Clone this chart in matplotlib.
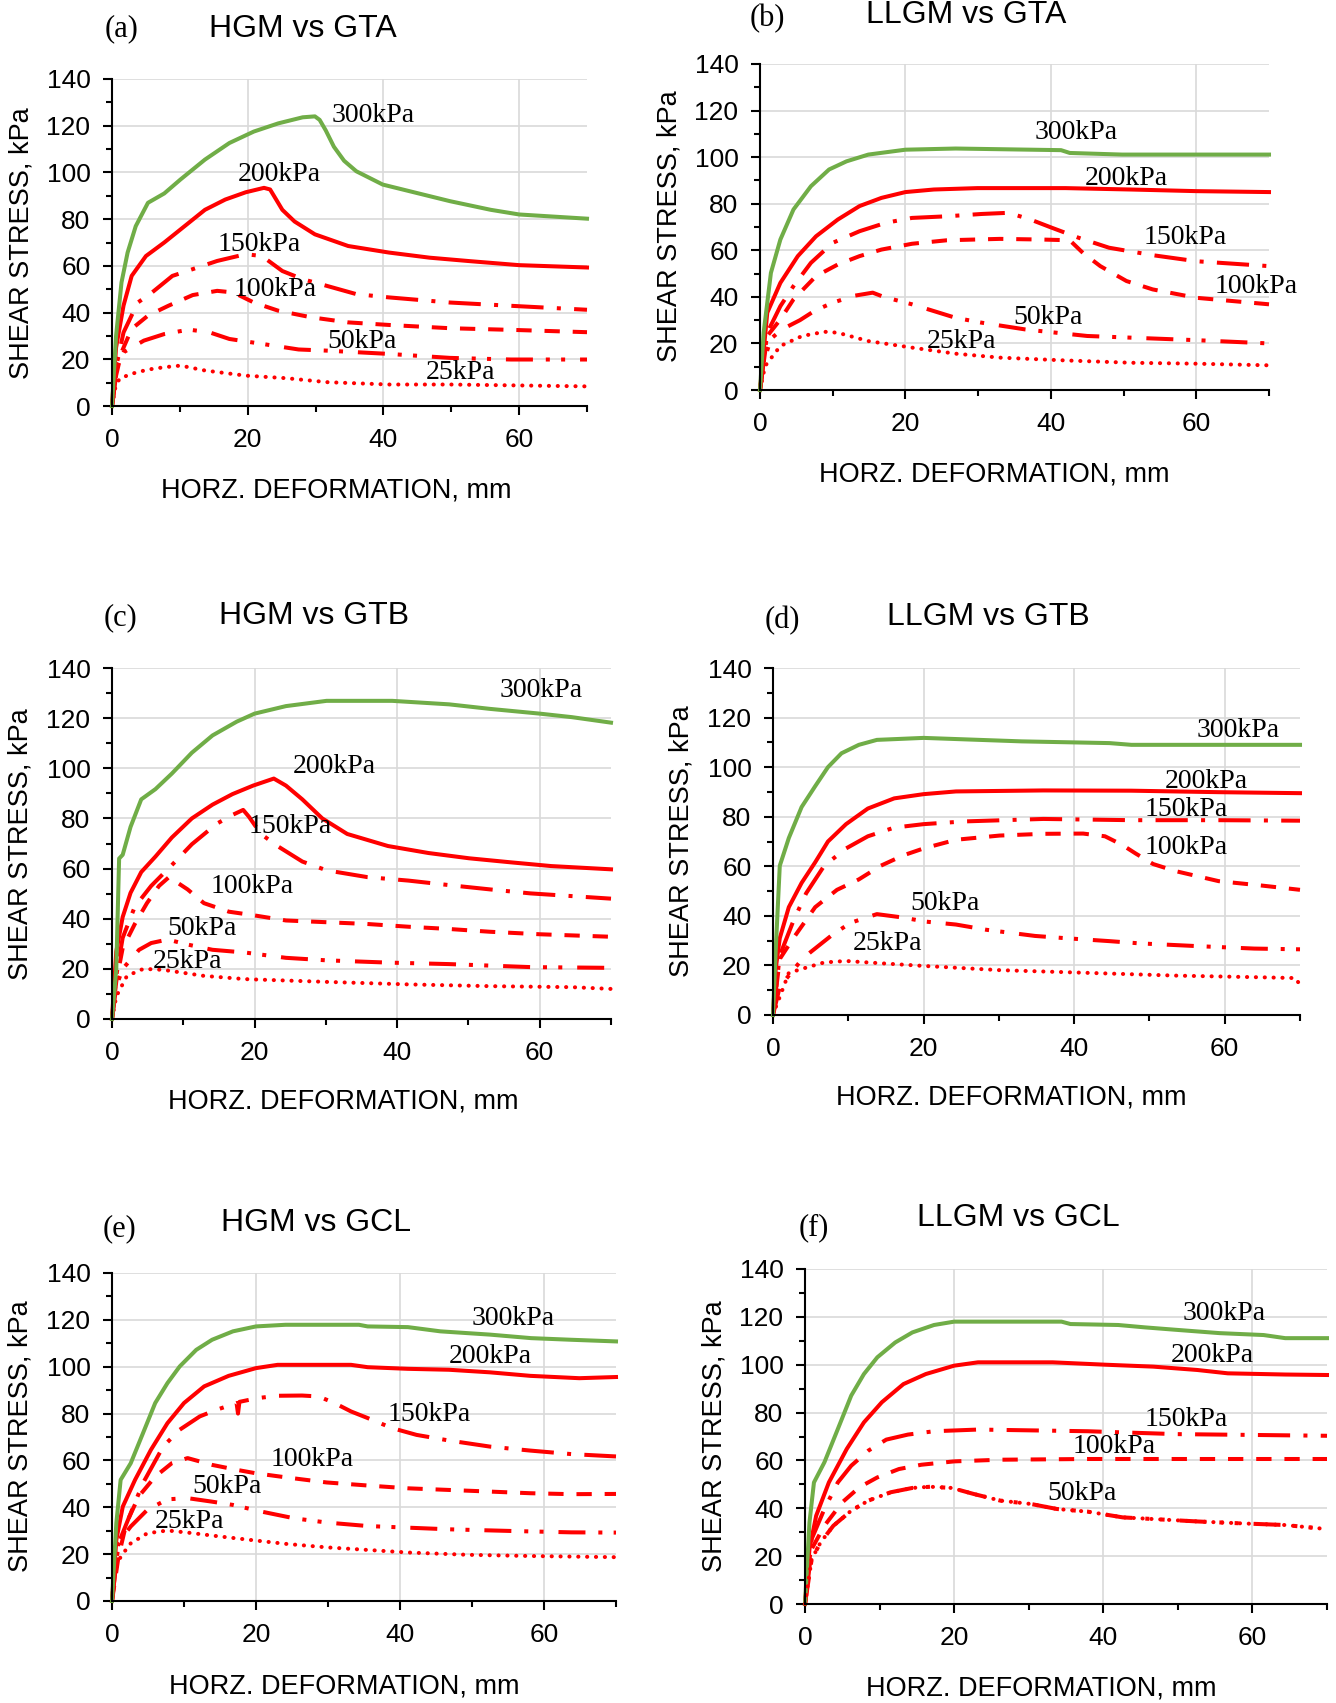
import numpy as np
import matplotlib
matplotlib.use("Agg")
import matplotlib.pyplot as plt
from matplotlib.ticker import MultipleLocator

# ---- data (x: horz. deformation mm, y: shear stress kPa) ----
# (a) HGM vs GTA
A300_X = [0, 0.6, 1.4, 2.3, 3.5, 5.3, 7.7, 10.1, 13.7, 17.3, 20.9, 24.5, 28.1, 29.9, 30.6, 31.5, 32.7, 34.2, 36.0, 39.9, 43.8, 49.8, 55.8, 60.0, 70.0]
A300_Y = [0, 30, 52.9, 65.7, 77, 87, 91, 97, 105.5, 112.6, 117.5, 121, 123.6, 124, 122.5, 118, 111, 105, 100.5, 94.8, 92, 87.7, 84, 82, 80.2]
A200_X = [0, 0.6, 1.7, 2.9, 5.0, 7.7, 10.7, 13.7, 16.7, 19.7, 22.4, 23.3, 25.1, 26.9, 29.9, 34.8, 40.8, 46.8, 52.8, 60, 70]
A200_Y = [0, 25, 43, 55.7, 64.2, 70, 77, 84, 88.4, 91.5, 93.4, 92.7, 84, 79, 73.5, 68.5, 65.7, 63.5, 62, 60.3, 59.3]
A150_X = [0, 0.7, 1.7, 3.8, 5.9, 8.9, 11.9, 15.5, 19.7, 22.1, 25.1, 28.1, 31.7, 36, 40.8, 49.8, 58.8, 70]
A150_Y = [0, 18, 31.5, 44.3, 48.6, 55.7, 58.6, 62.1, 65, 64.2, 57.8, 54.3, 51.4, 47.9, 46.5, 44.3, 42.9, 41.2]
A100_X = [0, 0.6, 1.4, 2.9, 5.3, 8.3, 11.9, 15.5, 17.9, 20.9, 24.5, 29.3, 34.8, 40.8, 49.8, 60, 70]
A100_Y = [0, 13, 23, 33, 38.7, 42.9, 47.5, 49.3, 48.6, 44.3, 40.8, 38, 35.8, 34.7, 33.3, 32.5, 31.6]
A50_X = [0, 0.8, 1.7, 4.7, 7.7, 11.3, 14.3, 17.3, 22.1, 27.5, 31.7, 40.8, 49.8, 58.8, 70]
A50_Y = [0, 17.3, 23, 28, 30.8, 32.7, 31.6, 28.7, 26.6, 24.2, 23.7, 22.3, 20.6, 19.9, 19.9]
A25_X = [0, 0.5, 1.1, 2.9, 5.3, 7.7, 10.1, 13.7, 19.7, 25.7, 31.7, 40.8, 49.8, 60, 70]
A25_Y = [0, 8, 11.7, 13.8, 15.6, 16.6, 17.3, 15.2, 13, 11.9, 10.2, 9.2, 9.2, 8.8, 8.4]

# (b) LLGM vs GTA
B300_X = [0, 0.5, 1.5, 2.8, 4.6, 7.0, 9.5, 11.9, 14.9, 20, 26.9, 41.4, 42.6, 49.8, 70]
B300_Y = [0, 24.6, 50.3, 64.6, 77.5, 87.5, 94.7, 98.2, 101.1, 103.2, 103.7, 103, 101.8, 101.1, 101.1]
B200_X = [0, 1.0, 2.8, 5.2, 7.7, 10.7, 13.7, 16.7, 20, 23.9, 29.9, 42, 51, 60, 70]
B200_Y = [0, 33.2, 46, 57.5, 66, 73.2, 79, 82.5, 85, 86.1, 86.7, 86.7, 86.1, 85.4, 85]
B150_X = [0, 1.0, 2.8, 4.6, 7.0, 10.0, 13.7, 17.3, 20.9, 25.7, 30.5, 34.2, 37.2, 40.2, 43.8, 48, 54, 60, 70]
B150_Y = [0, 24.6, 36, 44.6, 54.6, 63.2, 68.2, 71.8, 73.9, 74.6, 75.6, 76.1, 73.2, 69.6, 65.4, 61.1, 57.9, 55.3, 53.2]
B100_X = [0, 1.0, 2.8, 4.6, 7.7, 10.7, 13.7, 16.7, 20.9, 25.7, 33, 39, 42.6, 44.4, 46.8, 50.4, 54, 60, 70]
B100_Y = [0, 23.2, 30.3, 38.9, 48.9, 53.9, 57.5, 60.3, 62.8, 64.3, 64.9, 64.6, 64.3, 58.9, 53.2, 46.8, 43.2, 39.6, 36.8]
B50_X = [0, 0.5, 1.5, 3, 5.5, 7.5, 10, 13, 15.5, 17, 20.9, 26.9, 30.5, 36.5, 45, 60, 70]
B50_Y = [0, 12, 22, 26, 30, 34, 37.5, 40.5, 41.8, 40, 36.8, 31, 28.9, 26, 23.2, 21.4, 20]
B25_X = [0, 0.7, 2.8, 5.8, 8.9, 10.7, 14.9, 20.9, 26.9, 33, 42, 51, 60, 70]
B25_Y = [0, 10.3, 18.9, 23.2, 25, 24.6, 21, 18.2, 15.6, 13.9, 12.7, 11.7, 11.3, 10.6]

# (c) HGM vs GTB
C300_X = [0, 0.6, 1.0, 1.5, 2.6, 4.1, 6.1, 8.4, 11.2, 14.1, 17.5, 20, 24.4, 30.1, 39.3, 47.3, 53, 60, 64.5, 70]
C300_Y = [0, 20, 64, 65.5, 76.6, 87.6, 91.7, 97.9, 106.2, 113.1, 118.6, 121.8, 124.8, 126.9, 126.9, 125.5, 123.7, 121.8, 120.4, 118.2]
C200_X = [0, 0.6, 1.5, 2.6, 4.1, 6.1, 8.4, 11.2, 14.1, 16.9, 19.8, 22.7, 24.4, 26.7, 29.5, 33, 38.7, 44.4, 50.1, 55.9, 61.6, 70]
C200_Y = [0, 26.9, 40.7, 50.3, 58.6, 64.8, 72.4, 80, 85.5, 89.7, 93.1, 95.9, 93.1, 87.6, 80, 73.8, 69, 66.2, 64.1, 62.5, 61, 59.7]
C150_X = [0, 0.6, 1.5, 3.2, 5.5, 8.4, 11.2, 14.7, 16.9, 18.4, 19.2, 20.9, 23.2, 26.7, 30.1, 35.8, 41.6, 47.3, 53, 58.7, 70]
C150_Y = [0, 17.2, 32.4, 44.8, 53.1, 61.4, 69.7, 77.9, 81.4, 83.4, 80.7, 73.8, 69, 62.8, 59.3, 56.6, 55.2, 53.4, 51.7, 50.1, 48]
C100_X = [0, 0.6, 1.5, 3.2, 4.9, 6.6, 8.0, 10.6, 12.9, 16.4, 19.8, 24.4, 30.1, 35.8, 41.6, 47.3, 53, 60, 70]
C100_Y = [0, 15, 28.3, 37.9, 46.2, 53.1, 56.6, 51.7, 46.2, 42.8, 41.4, 39.3, 38.6, 37.9, 36.8, 35.9, 34.8, 33.8, 32.8]
C50_X = [0, 0.6, 1.5, 3.8, 5.5, 7.8, 10.6, 14.1, 18.7, 24.4, 30.1, 38.7, 47.3, 58.7, 70]
C50_Y = [0, 13.1, 20, 27.6, 30.3, 31.7, 29.7, 27.6, 26.5, 24.4, 23.4, 22.5, 21.9, 20.7, 20.4]
C25_X = [0, 0.6, 2.1, 4.4, 7.2, 12.9, 18.7, 30.1, 41.6, 53, 64.5, 70]
C25_Y = [0, 9, 17.2, 20, 19.6, 17.2, 15.9, 14.8, 13.8, 13.1, 12.7, 12]

# (d) LLGM vs GTB
D300_X = [0, 0.35, 0.9, 2.1, 3.8, 5.6, 7.3, 9.1, 11.4, 13.8, 20, 33, 44.7, 47.6, 70]
D300_Y = [0, 25.4, 60.2, 71.4, 83.9, 92.3, 100, 105.6, 109, 111, 111.8, 110.4, 109.7, 109, 109]
D200_X = [0, 0.35, 0.9, 2.1, 3.8, 5.6, 7.3, 9.7, 12.6, 16.1, 20, 24.3, 35.9, 47.6, 59.2, 70]
D200_Y = [0, 18.4, 31, 43.5, 53.3, 61.6, 70, 77, 83.3, 87.4, 89.1, 90.2, 90.6, 90.5, 89.9, 89.5]
D150_X = [0, 0.9, 2.7, 4.4, 6.8, 9.7, 12.6, 16.1, 20, 25.4, 35.9, 47.6, 59.2, 70]
D150_Y = [0, 24, 37.9, 49.1, 60.2, 67.2, 72.1, 75.6, 77, 78.1, 79.1, 78.6, 78.6, 78.4]
D100_X = [0, 0.9, 2.7, 5.6, 8.5, 11.4, 14.3, 17.3, 20, 24.3, 30.1, 35.9, 41.2, 44.1, 46.4, 48.2, 50.5, 53.4, 59.2, 65, 70]
D100_Y = [0, 22.6, 31, 43.5, 50.5, 54.7, 60.2, 64.4, 67.2, 70.7, 72.4, 73.1, 73.2, 72.1, 68.6, 65.1, 60.9, 58.1, 54, 52.2, 50.5]
D50_X = [0, 0.9, 3.7, 5.0, 7.9, 10.3, 13.8, 17.3, 20.2, 24.3, 28.3, 34.8, 38.8, 44.7, 48.7, 56.3, 63.9, 70]
D50_Y = [0, 11.4, 21.9, 25.4, 32.4, 37.2, 40.7, 39.3, 37.7, 36.5, 34.4, 31.9, 31, 29.8, 28.9, 27.8, 26.8, 26.5]
D25_X = [0, 0.35, 0.9, 2.1, 4.4, 6.8, 9.7, 12.6, 20, 30.1, 41.8, 53.4, 65, 69.4, 70]
D25_Y = [0, 3, 7.3, 17, 19.1, 21.2, 21.8, 21.2, 19.8, 18.1, 17, 15.9, 15.2, 14.9, 12.1]

# (e) HGM vs GCL
E300_X = [0, 0.6, 1.2, 2.6, 4.3, 6.0, 7.7, 9.4, 11.7, 13.9, 16.8, 20, 24.1, 34.3, 35.5, 41.1, 45.6, 52.5, 58.2, 63.8, 70]
E300_Y = [0, 33.2, 51.7, 58.8, 71.6, 84.5, 93, 100.1, 107.2, 111.5, 115.1, 117.2, 117.9, 117.9, 117.2, 116.9, 115.1, 113.7, 112.2, 111.5, 110.8]
E200_X = [0, 0.6, 1.5, 3.2, 5.4, 7.7, 10, 12.8, 16.2, 20, 23, 33.2, 35.5, 41.1, 46.8, 52.5, 58.1, 64.9, 70]
E200_Y = [0, 26.1, 40.3, 51.7, 64.5, 75.9, 84.5, 91.6, 96.1, 99.4, 100.8, 100.8, 99.8, 99.1, 98.7, 97.6, 96.1, 95.1, 95.6]
E150_X = [0, 0.9, 2.6, 4.3, 7.1, 9.4, 12.2, 14.5, 17.3, 17.5, 17.7, 20.2, 23, 26.4, 28.7, 30.9, 33.2, 35.5, 38.9, 42.3, 46.8, 52.5, 58.1, 63.8, 70]
E150_Y = [0, 24.6, 37.5, 50.3, 65.9, 73.1, 78.8, 81.6, 84.5, 80.0, 85.0, 86.6, 87.6, 87.7, 87.3, 84.5, 80.9, 78.1, 73.8, 70.9, 68.5, 65.9, 64.2, 62.7, 61.7]
E100_X = [0, 0.9, 2.0, 3.7, 6.0, 8.3, 10.5, 13.9, 17.3, 20, 24.1, 29.8, 35.5, 41.1, 46.8, 52.5, 58.1, 63.8, 70]
E100_Y = [0, 18.9, 33.2, 44.6, 53.1, 58.8, 61, 58.1, 56, 54.5, 52.8, 50.6, 49.3, 48.1, 47.4, 46.7, 46, 45.6, 45.7]
E50_X = [0, 0.9, 2.6, 4.9, 7.7, 10.5, 13.9, 16.8, 20.7, 25.3, 29.8, 35.5, 41.1, 46.8, 55.3, 63.8, 70]
E50_Y = [0, 25, 31.8, 38.9, 43.4, 43.9, 42.4, 41, 38.2, 35.3, 33.5, 32, 31.3, 30.6, 29.9, 29.3, 29.2]
E25_X = [0, 0.3, 1.2, 2.6, 4.9, 7.7, 10.5, 15.1, 20, 24.1, 29.8, 35.5, 41.1, 49.6, 58.1, 70]
E25_Y = [0, 11.8, 18.9, 24.6, 28.9, 30.1, 29.2, 27.5, 25.8, 24.4, 22.9, 21.8, 20.7, 19.7, 19.2, 18.7]

# (f) LLGM vs GCL
F300_X = [0, 0.6, 1.2, 2.6, 4.4, 6.2, 7.9, 9.7, 12.1, 14.4, 17.3, 20, 34.4, 35.6, 42, 45.6, 49.7, 55.6, 61.5, 64.4, 70]
F300_Y = [0, 34.1, 50.8, 59.2, 73.1, 87.1, 96.1, 103.1, 109.3, 113.5, 116.6, 118, 118, 117, 116.6, 115.6, 114.6, 113.2, 112.4, 111.1, 111.1]
F200_X = [0, 0.6, 1.5, 3.2, 5.6, 7.9, 10.3, 13.2, 16.2, 20, 23.2, 33.2, 40.3, 46.7, 52.6, 56.7, 64.4, 70]
F200_Y = [0, 23, 36.9, 50.8, 64.8, 75.9, 84.3, 91.9, 96.1, 99.6, 101, 101, 100, 99.2, 97.8, 96.4, 95.9, 95.7]
F150_X = [0, 0.9, 2.6, 4.4, 6.2, 8.5, 10.9, 13.8, 17.3, 23.2, 37.9, 49.7, 61.5, 70]
F150_Y = [0, 27.2, 39.7, 50.8, 57.8, 64.1, 68.7, 70.8, 72.2, 72.9, 72.2, 71, 70.6, 70.3]
F100_X = [0, 0.9, 2.6, 5.0, 7.3, 9.7, 12.6, 15.6, 20, 26.2, 37.9, 70]
F100_Y = [0, 23, 32.7, 42.5, 48.8, 52.9, 56.4, 58.2, 59.6, 60.3, 60.6, 60.6]
F50_X = [0, 0.3, 0.9, 2.1, 3.8, 6.2, 8.5, 11.5, 14.4, 16.8, 19.7, 22.6, 26.2, 30.3, 33.8, 37.9, 42.6, 46.7, 52.6, 58.5, 64.4, 70]
F50_Y = [0, 6.3, 18.8, 25.8, 32.7, 39, 43.2, 46.7, 48.5, 49, 48.5, 46, 43.2, 41.8, 39.7, 38.6, 36.2, 35.5, 34.5, 33.7, 33, 31.3]

W, H = 1336, 1703
GREEN = "#70AD47"
RED = "#FF0000"
SANS = "Liberation Sans"
SERIF = "Liberation Serif"

STYLES = {
    "300kPa": dict(color=GREEN, lw=2.9, ls="-"),
    "200kPa": dict(color=RED, lw=2.9, ls="-"),
    "150kPa": dict(color=RED, lw=2.9, ls=(0, (8, 3.3, 1, 3.3))),
    "100kPa": dict(color=RED, lw=2.9, ls=(0, (3.8, 3.2))),
    "50kPa": dict(color=RED, lw=2.9, ls=(0, (6.7, 3.2, 1, 2.8, 1, 3.7))),
    "25kPa": dict(color=RED, lw=2.9, ls=(0, (0.05, 2.15)), dash_capstyle="round"),
}

fig = plt.figure(figsize=(W / 100, H / 100), dpi=100)


def panel(box, letter, title, series, labels, txt):
    # box = (x0, x70, y0, y140) in pixels of the full image
    x0, x1, y0, y1 = box
    ax = fig.add_axes([x0 / W, 1 - y0 / H, (x1 - x0) / W, (y0 - y1) / H])
    ax.set_xlim(0, 70)
    ax.set_ylim(0, 140)
    ax.xaxis.set_major_locator(MultipleLocator(20))
    ax.xaxis.set_minor_locator(MultipleLocator(10))
    ax.yaxis.set_major_locator(MultipleLocator(20))
    ax.yaxis.set_minor_locator(MultipleLocator(10))
    ax.grid(True, which="major", color="#D9D9D9", lw=1.2)
    ax.set_axisbelow(True)
    for s in ["top", "right"]:
        ax.spines[s].set_visible(False)
    for s in ["left", "bottom"]:
        ax.spines[s].set_linewidth(1.5)
        ax.spines[s].set_zorder(5)
    ax.tick_params(which="major", length=6.5, width=1.5, pad=9, labelsize=19)
    ax.tick_params(which="minor", length=4.3, width=1.5)
    for lab in ax.get_xticklabels() + ax.get_yticklabels():
        lab.set_fontfamily(SANS)

    for name, (xs, ys) in series.items():
        st = STYLES[name]
        extra = {k: v for k, v in st.items() if k not in ("color", "lw", "ls")}
        ax.plot(xs, ys, color=st["color"], lw=st["lw"], linestyle=st["ls"],
                clip_on=False, zorder=3, **extra)
    for name, (lx, ly) in labels.items():
        ax.text(lx, ly, name, family=SERIF, fontsize=20, ha="left", va="center", zorder=6)

    ax.text(*txt["letter"], letter, family=SERIF, fontsize=22, ha="center", va="center")
    ax.text(*txt["title"], title, family=SANS, fontsize=23, ha="center", va="center")
    ax.text(*txt["xlabel"], "HORZ. DEFORMATION, mm", family=SANS, fontsize=19.5,
            ha="center", va="center")
    ax.text(*txt["ylabel"], "SHEAR STRESS, kPa", family=SANS, fontsize=19.5,
            ha="center", va="center", rotation=90)
    return ax


panel((112, 587, 406, 79), "(a)", "HGM vs GTA",
      {"25kPa": (A25_X, A25_Y), "50kPa": (A50_X, A50_Y), "100kPa": (A100_X, A100_Y),
       "150kPa": (A150_X, A150_Y), "200kPa": (A200_X, A200_Y), "300kPa": (A300_X, A300_Y)},
      {"300kPa": (32.3, 124.5), "200kPa": (18.6, 99), "150kPa": (15.5, 69.2),
       "100kPa": (17.9, 50), "50kPa": (31.7, 27.6), "25kPa": (46.2, 14.5)},
      {"letter": (1.4, 161.6), "title": (28.1, 161.6), "xlabel": (33.1, -36), "ylabel": (-13.35, 69.9)})

panel((760, 1269, 390, 64), "(b)", "LLGM vs GTA",
      {"25kPa": (B25_X, B25_Y), "50kPa": (B50_X, B50_Y), "100kPa": (B100_X, B100_Y),
       "150kPa": (B150_X, B150_Y), "200kPa": (B200_X, B200_Y), "300kPa": (B300_X, B300_Y)},
      {"300kPa": (37.7, 110.7), "200kPa": (44.7, 90.7), "150kPa": (52.8, 65.4),
       "100kPa": (62.5, 44.6), "50kPa": (34.8, 31), "25kPa": (23, 21)},
      {"letter": (1.0, 159.7), "title": (28.4, 161.2), "xlabel": (32.2, -36.2), "ylabel": (-12.5, 70.4)})

panel((112, 611, 1019, 668), "(c)", "HGM vs GTB",
      {"25kPa": (C25_X, C25_Y), "50kPa": (C50_X, C50_Y), "100kPa": (C100_X, C100_Y),
       "150kPa": (C150_X, C150_Y), "200kPa": (C200_X, C200_Y), "300kPa": (C300_X, C300_Y)},
      {"300kPa": (54.4, 131.1), "200kPa": (25.4, 100.7), "150kPa": (19.1, 76.8),
       "100kPa": (13.8, 52.8), "50kPa": (7.7, 35.9), "25kPa": (5.7, 22.8)},
      {"letter": (1.2, 160), "title": (28.3, 160.7), "xlabel": (32.4, -33.1), "ylabel": (-12.8, 69.7)})

panel((773, 1300, 1015, 668), "(d)", "LLGM vs GTB",
      {"25kPa": (D25_X, D25_Y), "50kPa": (D50_X, D50_Y), "100kPa": (D100_X, D100_Y),
       "150kPa": (D150_X, D150_Y), "200kPa": (D200_X, D200_Y), "300kPa": (D300_X, D300_Y)},
      {"300kPa": (56.2, 114.6), "200kPa": (52.1, 94.4), "150kPa": (49.3, 82.8),
       "100kPa": (49.3, 67.5), "50kPa": (18.3, 44.9), "25kPa": (10.6, 28.9)},
      {"letter": (1.2, 159), "title": (28.6, 160.4), "xlabel": (31.7, -33.2), "ylabel": (-12.2, 70)})

panel((112, 616, 1601, 1273), "(e)", "HGM vs GCL",
      {"25kPa": (E25_X, E25_Y), "50kPa": (E50_X, E50_Y), "100kPa": (E100_X, E100_Y),
       "150kPa": (E150_X, E150_Y), "200kPa": (E200_X, E200_Y), "300kPa": (E300_X, E300_Y)},
      {"300kPa": (49.9, 120.5), "200kPa": (46.8, 104.4), "150kPa": (38.3, 79.5),
       "100kPa": (22, 60.2), "50kPa": (11.2, 48.9), "25kPa": (6, 33.9)},
      {"letter": (1.0, 158.8), "title": (28.4, 161.4), "xlabel": (32.2, -36.6), "ylabel": (-12.7, 70.2)})

axf = panel((805, 1327, 1604, 1269), "(f)", "LLGM vs GCL",
            {"50kPa": (F50_X, F50_Y), "100kPa": (F100_X, F100_Y),
             "150kPa": (F150_X, F150_Y), "200kPa": (F200_X, F200_Y), "300kPa": (F300_X, F300_Y)},
            {"300kPa": (50.6, 121.2), "200kPa": (49, 103.8), "150kPa": (45.6, 77.3),
             "100kPa": (35.9, 65.7), "50kPa": (32.5, 46)},
            {"letter": (1.2, 157.4), "title": (28.6, 161.2), "xlabel": (31.7, -35.5), "ylabel": (-12.2, 70.3)})
# in (f) the 50kPa trace shows dots mixed into the dash pattern
st = STYLES["25kPa"]
axf.plot(F50_X, F50_Y, color=RED, lw=st["lw"], linestyle=st["ls"], dash_capstyle="round",
         clip_on=False, zorder=3)

fig.savefig("out.png", dpi=100)
